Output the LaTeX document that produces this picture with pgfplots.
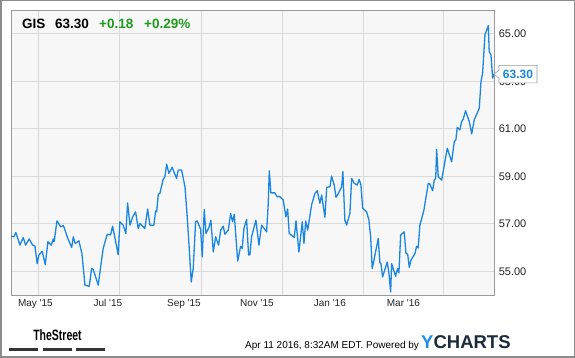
\documentclass[border=0pt]{standalone}
\usepackage{fontspec}
\setmainfont{Liberation Sans}
\usepackage{graphicx}
\usepackage{pgfplots}
\pgfplotsset{compat=1.18}
\usepackage{pgfplotstable}
\definecolor{plotbg}{HTML}{F7F7F7}
\definecolor{gridgray}{HTML}{D9D9D9}
\definecolor{axisgray}{HTML}{9A9A9A}
\definecolor{framegray}{HTML}{8C8C8C}
\definecolor{lineblue}{HTML}{1A86E0}
\definecolor{labelgray}{HTML}{222222}
\definecolor{upgreen}{HTML}{1E9A1E}
\definecolor{ybl}{HTML}{1A8FE3}
\definecolor{ydark}{HTML}{1C2B3C}
\definecolor{barcol}{HTML}{333333}
\pgfplotstableread{
d v
-20.5 56.48
-18.3 56.45
-16.8 56.63
-13.8 56.10
-11.3 56.42
-9.5 56.10
-6.8 56.36
-4.2 56.10
-2.5 56.07
-0.8 55.32
0.5 55.68
3.0 55.84
5.3 55.28
7.3 56.24
9.8 56.10
11.3 56.36
12.0 56.24
14.1 57.12
16.9 56.87
18.8 56.93
19.6 56.83
21.8 56.45
25.2 56.00
26.4 56.45
27.9 56.17
30.6 56.28
32.9 55.75
35.2 54.41
38.4 54.37
40.2 55.11
41.4 55.08
45.2 54.41
47.0 55.18
48.9 55.96
52.0 56.56
54.5 56.53
56.0 56.90
60.2 55.70
61.5 57.08
64.0 56.94
66.0 56.59
67.3 57.88
69.1 56.94
71.1 57.29
73.3 57.50
75.3 56.80
76.6 57.01
80.3 56.80
82.4 57.62
84.1 56.94
87.1 56.94
88.4 57.54
89.2 57.50
90.4 58.24
91.6 58.28
94.1 58.87
95.4 58.98
96.7 59.51
98.4 59.12
100.9 59.38
102.4 59.15
104.2 58.91
105.4 59.26
108.0 59.26
110.5 58.56
112.2 57.29
113.7 55.96
115.2 54.55
116.7 55.11
118.5 57.08
119.7 57.12
122.3 56.76
123.5 55.60
125.0 57.60
126.3 56.59
128.5 56.84
130.0 57.15
131.8 55.81
133.6 56.45
135.8 56.10
137.4 56.73
139.3 56.90
140.6 56.56
143.1 56.73
144.9 57.43
146.4 57.08
147.6 57.40
150.2 55.43
152.4 56.05
153.6 55.96
154.9 56.80
156.9 57.18
158.4 55.68
159.4 55.70
160.7 56.46
163.9 57.15
166.2 56.10
168.2 56.94
172.0 56.66
173.2 57.86
174.0 59.23
175.2 58.30
178.2 58.30
180.0 58.13
181.5 58.16
184.5 58.00
186.5 57.29
187.8 57.62
189.0 56.59
191.6 56.48
192.8 56.42
194.1 57.12
196.3 55.81
198.8 57.08
200.1 56.17
201.4 57.12
202.9 56.73
205.9 57.81
208.4 58.28
210.1 58.39
212.1 57.86
213.4 58.21
215.9 57.27
217.2 58.53
219.7 58.56
220.9 59.01
222.1 58.77
222.9 58.63
224.2 58.11
226.2 58.30
228.5 58.56
229.4 59.19
230.9 57.15
232.2 56.94
234.7 57.43
236.0 58.91
238.0 58.70
240.2 58.63
241.7 58.87
243.0 58.63
244.3 57.65
247.3 57.50
249.0 57.15
250.3 56.45
251.5 55.11
252.8 55.46
256.0 56.38
257.3 55.35
258.1 55.32
259.3 54.76
262.8 55.39
264.1 54.90
265.4 54.13
266.1 55.32
269.1 54.79
270.6 55.11
271.6 54.93
272.9 56.52
275.6 56.66
276.9 55.75
278.2 55.72
279.4 55.16
280.6 55.46
283.7 55.75
284.9 56.05
286.1 55.98
287.4 56.94
290.4 57.57
293.7 58.70
294.9 58.67
297.0 58.39
298.2 58.84
299.3 58.91
300.0 60.13
301.2 58.98
303.8 58.84
305.5 59.38
308.0 60.18
311.3 59.61
313.3 60.46
314.5 60.53
315.5 61.06
317.5 60.95
318.8 61.30
320.0 61.40
321.8 61.76
324.6 61.30
326.4 60.78
328.3 61.37
332.1 61.86
333.4 62.99
334.6 63.34
336.4 64.96
338.9 65.34
339.6 64.25
340.9 64.11
342.2 63.13
343.2 63.30
}\gisdata
\begin{document}
\begin{tikzpicture}[x=1pt,y=1pt]
\useasboundingbox (0,0) rectangle (575,358);
\fill[white] (0,0) rectangle (575,358);
\draw[framegray, line width=1.5pt] (0.75,0.75) rectangle (574.25,357.25);
\begin{axis}[
  at={(11pt,63pt)}, anchor=south west,
  scale only axis, width=483pt, height=285pt,
  xmin=-20.5, xmax=343.2, ymin=54, ymax=66,
  axis background/.style={fill=plotbg},
  axis line style={draw=axisgray, line width=0.8pt},
  xtick={0,61,123,184,245,305}, xticklabels={},
  extra x ticks={-2.1,52.5,109.7,164.7,219.6,275.0},
  extra x tick labels={May \textquotesingle 15,Jul \textquotesingle 15,Sep \textquotesingle 15,Nov \textquotesingle 15,Jan \textquotesingle 16,Mar \textquotesingle 16},
  extra x tick style={grid=none},
  xticklabel style={font=\fontsize{10}{12}\selectfont, text=labelgray, yshift=-1pt},
  ytick={55,57,59,61,63,65},
  yticklabel pos=right,
  yticklabel style={font=\fontsize{11}{13}\selectfont, text=labelgray, xshift=1.3pt,
    /pgf/number format/.cd, fixed, fixed zerofill, precision=2},
  /pgf/number format/assume math mode=true,
  grid=major,
  major grid style={draw=gridgray, line width=0.8pt},
  tick style={draw=none},
  major tick length=0pt,
]
\addplot[lineblue, line width=1.3pt, line join=round] table[x=d, y=v] {\gisdata};
\coordinate (lastpt) at (axis cs:343.2,63.30);
\end{axis}
% current value tag
\draw[fill=white, draw=axisgray, line width=0.6pt] (lastpt) -- ++(5,4) -- ++(0,4.8) -- ++(38,0) -- ++(0,-17.6) -- ++(-38,0) -- ++(0,4.8) -- cycle;
\node[font=\bfseries\fontsize{12}{14}\selectfont, text=lineblue, inner sep=0] at ([xshift=24pt]lastpt) {63.30};
% header
\node[anchor=base west, inner sep=0, font=\bfseries\fontsize{13.5}{15}\selectfont, text=black] at (22,329.7) {GIS};
\node[anchor=base west, inner sep=0, font=\bfseries\fontsize{13.5}{15}\selectfont, text=black] at (55,329.7) {63.30};
\node[anchor=base west, inner sep=0, font=\bfseries\fontsize{13.5}{15}\selectfont, text=upgreen] at (99,329.7) {+0.18};
\node[anchor=base west, inner sep=0, font=\bfseries\fontsize{13.5}{15}\selectfont, text=upgreen] at (144,329.7) {+0.29\%};
% footer
\node[anchor=base, inner sep=0, font=\bfseries\fontsize{15}{16}\selectfont, text=black] at (57.5,17.3) {\scalebox{0.7}[1]{TheStreet}};
\fill[barcol] (9,7.3) rectangle (38,10.3);
\fill[barcol] (43,7.3) rectangle (72,10.3);
\fill[barcol] (76,7.3) rectangle (105,10.3);
\node[anchor=base west, inner sep=0, font=\fontsize{10}{12}\selectfont, text=black] at (245,9.7) {Apr 11 2016, 8:32AM EDT.\ Powered by};
\node[anchor=base west, inner sep=0, font=\bfseries\fontsize{18.5}{20}\selectfont] at (421,9.7) {\textcolor{ybl}{Y}\textcolor{ydark}{CHARTS}};
\end{tikzpicture}
\end{document}
